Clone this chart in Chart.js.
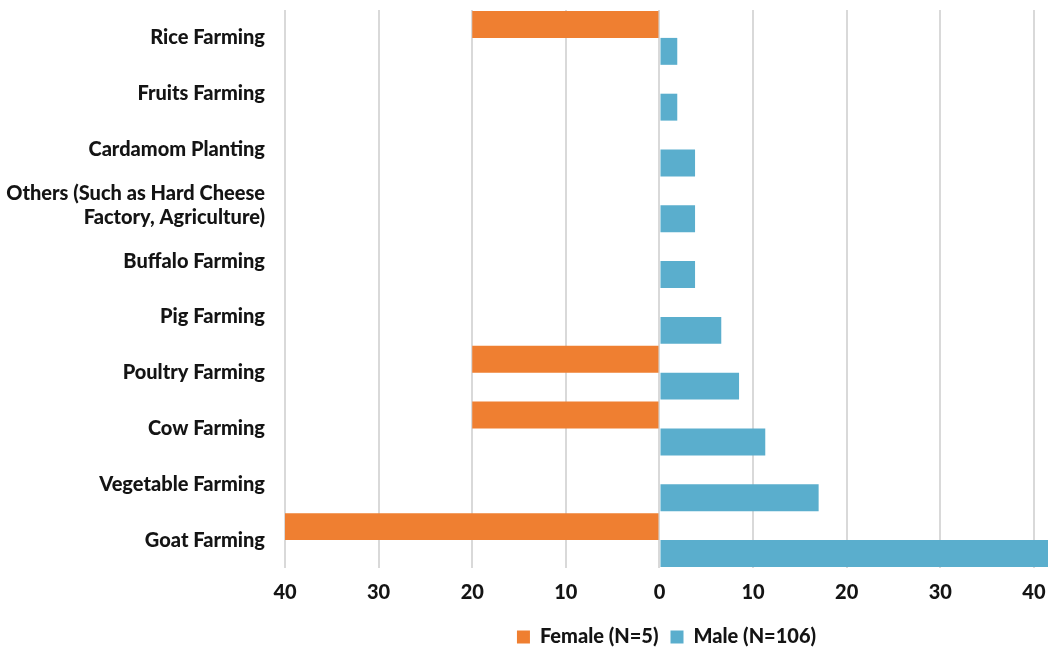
<!DOCTYPE html>
<html>
<head>
<meta charset="utf-8">
<script src="https://cdn.jsdelivr.net/npm/chart.js@4/dist/chart.umd.min.js"></script>
<style>
  html, body { margin: 0; padding: 0; background: #ffffff; }
  #wrap { width: 1052px; height: 652px; }
</style>
</head>
<body>
<div id="wrap"><canvas id="c" width="1052" height="652"></canvas></div>
<script>
// Occupations, top to bottom
const categories = [
  'Rice Farming',
  'Fruits Farming',
  'Cardamom Planting',
  ['Others (Such as Hard Cheese', 'Factory, Agriculture)'],
  'Buffalo Farming',
  'Pig Farming',
  'Poultry Farming',
  'Cow Farming',
  'Vegetable Farming',
  'Goat Farming'
];

// Share of respondents (%), female drawn to the left as negative values
const femaleValues = [-20, null, null, null, null, null, -20, -20, null, -40];
const maleValues = [1.9, 1.9, 3.8, 3.8, 3.8, 6.6, 8.5, 11.3, 17.0, 41.5];

const seriesNames = ['Female (N=5)', 'Male (N=106)'];
const xTickValues = [-40, -30, -20, -10, 0, 10, 20, 30, 40];

const FONT = 'Lato, "Open Sans", sans-serif';
const TEXT = '#141414';

new Chart(document.getElementById('c'), {
  type: 'bar',
  data: {
    labels: categories,
    datasets: [
      { label: seriesNames[0], data: femaleValues, backgroundColor: '#ef7f31' },
      { label: seriesNames[1], data: maleValues, backgroundColor: '#5aaecd' }
    ]
  },
  options: {
    indexAxis: 'y',
    responsive: false,
    animation: false,
    devicePixelRatio: 1,
    layout: { padding: { top: 10, right: 4, left: 0, bottom: 0 } },
    datasets: { bar: { categoryPercentage: 0.965, barPercentage: 1.0 } },
    scales: {
      x: {
        min: -40,
        max: 41.5,
        afterBuildTicks: s => { s.ticks = xTickValues.map(v => ({ value: v })); },
        afterFit: s => { s.height = 47; s.paddingLeft = 0; s.paddingRight = 0; },
        grid: { color: '#d9d9d9', lineWidth: 2, drawTicks: false },
        border: { display: false },
        ticks: {
          padding: 13,
          color: TEXT,
          font: { family: FONT, size: 20, weight: 900 },
          callback: v => Math.abs(v)
        }
      },
      y: {
        afterFit: s => { s.width = 285; s.paddingTop = 0; s.paddingBottom = 0; },
        grid: { display: false, drawTicks: false },
        border: { display: false },
        ticks: {
          padding: 20,
          color: TEXT,
          font: { family: FONT, size: 20, weight: 900 }
        }
      }
    },
    plugins: {
      legend: {
        position: 'bottom',
        fullSize: false,
        maxHeight: 37,
        labels: {
          boxWidth: 13,
          boxHeight: 13,
          padding: 12,
          color: TEXT,
          font: { family: FONT, size: 20, weight: 900 }
        }
      },
      tooltip: { enabled: false }
    }
  }
});
</script>
</body>
</html>
